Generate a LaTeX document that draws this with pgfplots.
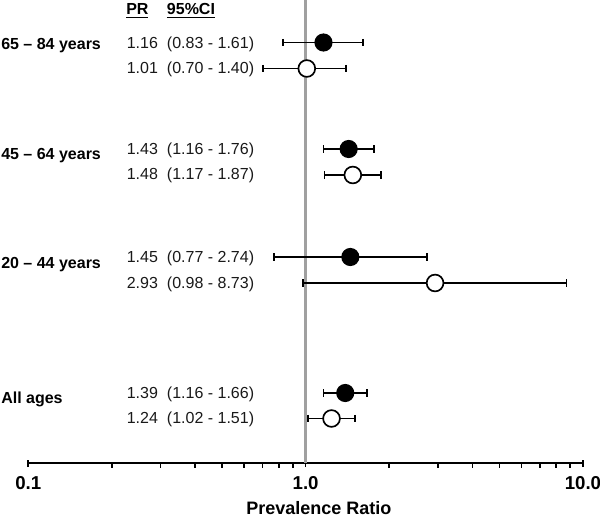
\documentclass[border=0pt]{standalone}
\usepackage{pgfplots}
\pgfplotsset{compat=1.18}
\usepackage{fontspec}
\setmainfont{Liberation Sans}
\definecolor{refline}{RGB}{160,160,160}
\begin{document}
\begin{tikzpicture}
\path[use as bounding box] (0,0) rectangle (450pt,-387pt);
\begin{axis}[
  at={(21.2pt,-347.25pt)}, anchor=south west,
  scale only axis, width=416pt, height=347.25pt,
  xmode=log, xmin=0.1, xmax=10, ymin=0, ymax=463,
  axis x line*=bottom, axis y line=none,
  axis line style={line width=1.6pt,-},
  xtick={0.1,1,10}, xticklabels={0.1,1.0,10.0},
  minor xtick={0.2,0.3,0.4,0.5,0.6,0.7,0.8,0.9,2,3,4,5,6,7,8,9},
  tick align=outside, major tick length=5pt, minor tick length=3.5pt,
  every major tick/.append style={yshift=2pt},
  tick style={black, line width=1.2pt},
  xticklabel style={font=\bfseries\fontsize{14}{14}\selectfont, inner sep=0pt, anchor=base, yshift=-14.5pt},
  xlabel={Prevalence Ratio},
  xlabel style={font=\bfseries\fontsize{13.5}{14}\selectfont, at={(axis description cs:0.524,0)}, anchor=base, inner sep=0pt, yshift=-38.25pt},
  clip=false,
]
% reference line at PR = 1
\addplot[refline, line width=2pt, forget plot] coordinates {(1,0) (1,463)};
% confidence intervals
\pgfplotsset{cibar/.style={black, line width=1.35pt, mark=|, mark size=2.7pt, mark options={line width=1.35pt}}}
\addplot[cibar] coordinates {(0.83,420.5) (1.61,420.5)};
\addplot[cibar] coordinates {(0.70,394.5) (1.40,394.5)};
\addplot[cibar] coordinates {(1.16,314) (1.76,314)};
\addplot[cibar] coordinates {(1.17,288) (1.87,288)};
\addplot[cibar] coordinates {(0.77,206) (2.74,206)};
\addplot[cibar] coordinates {(0.98,180) (8.73,180)};
\addplot[cibar] coordinates {(1.16,70) (1.66,70)};
\addplot[cibar] coordinates {(1.02,44.5) (1.51,44.5)};
% point estimates
\addplot[only marks, mark=*, mark size=6.3pt, mark options={draw=black, fill=black, line width=1pt}] coordinates {(1.16,420.5) (1.43,314) (1.45,206) (1.39,70)};
\addplot[only marks, mark=*, mark size=6.3pt, mark options={draw=black, fill=white, line width=1.25pt}] coordinates {(1.01,394.5) (1.48,288) (2.93,180) (1.24,44.5)};
\end{axis}
\begin{scope}[x=0.75pt, y=-0.75pt]
\tikzset{grp/.style={anchor=base west, inner sep=0pt, font=\bfseries\fontsize{12}{14}\selectfont},
         val/.style={anchor=base west, inner sep=0pt, font=\fontsize{12}{14}\selectfont, text=black!90}}
\node[grp] at (126,15) {\underline{PR}};
\node[grp] at (166.7,15) {\underline{95\%CI}};
\node[grp] at (1,50) {65 – 84 years};
\node[grp] at (1,160) {45 – 64 years};
\node[grp] at (1,269) {20 – 44 years};
\node[grp] at (1,404) {All ages};
\node[val] at (126.5,48.3) {1.16};  \node[val] at (166.7,48.3) {(0.83 - 1.61)};
\node[val] at (126.5,74)   {1.01};  \node[val] at (166.7,74)   {(0.70 - 1.40)};
\node[val] at (126.5,154.3) {1.43}; \node[val] at (166.7,154.3) {(1.16 - 1.76)};
\node[val] at (126.5,180)  {1.48};  \node[val] at (166.7,180)  {(1.17 - 1.87)};
\node[val] at (126.5,262.7) {1.45}; \node[val] at (166.7,262.7) {(0.77 - 2.74)};
\node[val] at (126.5,288.3) {2.93}; \node[val] at (166.7,288.3) {(0.98 - 8.73)};
\node[val] at (126.5,398.3) {1.39}; \node[val] at (166.7,398.3) {(1.16 - 1.66)};
\node[val] at (126.5,424)  {1.24};  \node[val] at (166.7,424)  {(1.02 - 1.51)};
\end{scope}
\end{tikzpicture}
\end{document}
